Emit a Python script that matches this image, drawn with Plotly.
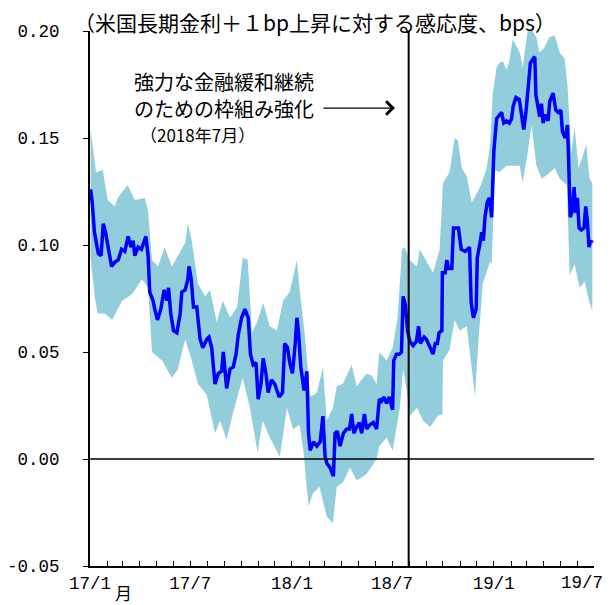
import plotly.graph_objects as go

# ---- data ----
line_dates = [
    "2017-01-02","2017-01-05","2017-01-09","2017-01-16","2017-01-21","2017-01-25","2017-01-29",
    "2017-02-03","2017-02-09","2017-02-15","2017-02-21","2017-02-27","2017-03-05","2017-03-11",
    "2017-03-16","2017-03-20","2017-03-23","2017-03-29","2017-04-04","2017-04-12","2017-04-16",
    "2017-04-19","2017-04-25","2017-04-28","2017-05-03","2017-05-09","2017-05-15","2017-05-20",
    "2017-05-23","2017-05-27","2017-06-01","2017-06-07","2017-06-13","2017-06-16","2017-06-22",
    "2017-06-27","2017-06-29","2017-07-03","2017-07-07","2017-07-13","2017-07-19","2017-07-24",
    "2017-07-31","2017-08-04","2017-08-09","2017-08-15","2017-08-21","2017-08-27","2017-08-30",
    "2017-09-05","2017-09-11","2017-09-17","2017-09-22","2017-09-26","2017-10-02","2017-10-08",
    "2017-10-14","2017-10-18","2017-10-23","2017-10-28","2017-11-01","2017-11-06","2017-11-10",
    "2017-11-15","2017-11-19","2017-11-25","2017-12-01","2017-12-09","2017-12-15","2017-12-19",
    "2017-12-24","2017-12-28","2018-01-02","2018-01-07","2018-01-10","2018-01-13","2018-01-17",
    "2018-01-23","2018-01-28","2018-01-31","2018-02-03","2018-02-09","2018-02-15","2018-02-21",
    "2018-02-26","2018-03-02","2018-03-05","2018-03-11","2018-03-17","2018-03-20","2018-03-24",
    "2018-03-29","2018-04-04","2018-04-10","2018-04-15","2018-04-19","2018-04-23","2018-04-28",
    "2018-05-03","2018-05-07","2018-05-12","2018-05-16","2018-05-22","2018-05-28","2018-06-03",
    "2018-06-08","2018-06-12","2018-06-16","2018-06-21","2018-06-26","2018-07-02","2018-07-04",
    "2018-07-09","2018-07-14","2018-07-18","2018-07-21","2018-07-25","2018-07-29","2018-08-02",
    "2018-08-08","2018-08-14","2018-08-18","2018-08-21","2018-08-28","2018-09-01","2018-09-08",
    "2018-09-13","2018-09-17","2018-09-21","2018-09-24","2018-09-29","2018-09-30","2018-10-05",
    "2018-10-08","2018-10-11","2018-10-17","2018-10-20","2018-10-29","2018-11-03","2018-11-10",
    "2018-11-18","2018-11-21","2018-11-25","2018-11-30","2018-12-02","2018-12-07","2018-12-10",
    "2018-12-13","2018-12-16","2018-12-20","2018-12-24","2018-12-28","2019-01-01","2019-01-06",
    "2019-01-09","2019-01-15","2019-01-19","2019-01-24","2019-01-29","2019-02-02","2019-02-05",
    "2019-02-10","2019-02-16","2019-02-20","2019-02-24","2019-02-28","2019-03-04","2019-03-08",
    "2019-03-13","2019-03-16","2019-03-18","2019-03-22","2019-03-25","2019-03-28","2019-03-31",
    "2019-04-05","2019-04-09","2019-04-12","2019-04-18","2019-04-23","2019-04-27","2019-05-02",
    "2019-05-05","2019-05-10","2019-05-14","2019-05-16","2019-05-19","2019-05-23","2019-05-26",
    "2019-05-29","2019-06-01","2019-06-04","2019-06-08","2019-06-13","2019-06-16","2019-06-19",
    "2019-06-22","2019-06-25","2019-06-28",
]
line_values = [
    0.126,0.120,0.106,0.096,0.095,0.110,0.106,
    0.098,0.090,0.092,0.093,0.098,0.097,0.104,
    0.099,0.102,0.095,0.099,0.098,0.104,0.095,
    0.078,0.074,0.070,0.065,0.070,0.079,0.074,
    0.080,0.068,0.060,0.059,0.068,0.078,0.079,
    0.084,0.090,0.084,0.071,0.071,0.056,0.052,
    0.056,0.057,0.052,0.035,0.040,0.041,0.050,
    0.033,0.042,0.043,0.049,0.058,0.066,0.070,
    0.066,0.049,0.044,0.045,0.028,0.035,0.047,
    0.040,0.031,0.037,0.035,0.029,0.031,0.054,
    0.052,0.045,0.040,0.054,0.066,0.059,0.043,
    0.032,0.041,0.012,0.004,0.008,0.006,0.008,
    0.020,0.001,-0.002,-0.004,-0.008,0.012,0.013,
    0.006,0.012,0.014,0.014,0.021,0.012,0.015,
    0.017,0.012,0.021,0.014,0.016,0.017,0.014,
    0.028,0.027,0.029,0.026,0.029,0.023,0.046,
    0.049,0.049,0.050,0.076,0.072,0.060,0.055,
    0.053,0.055,0.062,0.054,0.057,0.056,0.052,
    0.049,0.054,0.054,0.059,0.060,0.087,0.087,
    0.093,0.089,0.089,0.108,0.108,0.098,0.097,
    0.099,0.073,0.066,0.070,0.094,0.101,0.106,
    0.102,0.113,0.120,0.122,0.113,0.144,0.159,
    0.160,0.162,0.157,0.158,0.157,0.159,0.165,
    0.169,0.168,0.161,0.154,0.162,0.173,0.185,
    0.187,0.188,0.170,0.165,0.160,0.166,0.157,
    0.161,0.158,0.167,0.171,0.163,0.162,0.163,
    0.153,0.150,0.156,0.141,0.113,0.116,0.127,
    0.115,0.122,0.108,0.107,0.108,0.118,0.111,
    0.099,0.102,0.101,
]

upper_dates = [
    "2017-01-02","2017-01-12","2017-01-24","2017-02-02","2017-02-15","2017-02-20","2017-03-10",
    "2017-03-23","2017-04-10","2017-04-16","2017-04-23","2017-05-04","2017-05-16","2017-05-29",
    "2017-06-09","2017-06-22","2017-06-27","2017-07-04","2017-07-15","2017-07-28","2017-08-06",
    "2017-08-18","2017-08-29","2017-09-11","2017-09-24","2017-10-04","2017-10-13","2017-10-21",
    "2017-10-30","2017-11-10","2017-11-22","2017-12-05","2017-12-16","2017-12-28","2018-01-10",
    "2018-01-15","2018-01-24","2018-02-03","2018-02-15","2018-02-26","2018-03-05","2018-03-16",
    "2018-03-23","2018-04-03","2018-04-19","2018-04-28","2018-05-07","2018-05-16","2018-05-25",
    "2018-06-03","2018-06-08","2018-06-21","2018-07-02","2018-07-11","2018-07-19","2018-07-24",
    "2018-08-02","2018-08-15","2018-08-20","2018-09-02","2018-09-13","2018-09-25","2018-10-01",
    "2018-10-13","2018-10-22","2018-10-28","2018-11-04","2018-11-13","2018-11-22","2018-12-01",
    "2018-12-10","2018-12-19","2018-12-25","2018-12-30","2019-01-06","2019-01-11","2019-01-17",
    "2019-01-24","2019-01-29","2019-02-04","2019-02-17","2019-02-22","2019-03-03","2019-03-12",
    "2019-03-19","2019-03-24","2019-04-02","2019-04-11","2019-04-21","2019-04-30","2019-05-09",
    "2019-05-14","2019-05-21","2019-05-27","2019-06-03","2019-06-10","2019-06-17","2019-06-23",
    "2019-06-28",
]
upper_values = [
    0.154,0.134,0.135,0.121,0.118,0.122,0.128,
    0.121,0.122,0.116,0.093,0.090,0.099,0.090,
    0.095,0.101,0.110,0.102,0.082,0.076,0.079,
    0.064,0.074,0.066,0.071,0.094,0.093,0.059,
    0.064,0.073,0.062,0.060,0.074,0.078,0.093,
    0.079,0.059,0.029,0.031,0.043,0.018,0.024,
    0.034,0.035,0.044,0.034,0.037,0.040,0.039,
    0.035,0.050,0.046,0.052,0.066,0.098,0.099,
    0.093,0.090,0.098,0.092,0.087,0.098,0.129,
    0.134,0.150,0.149,0.136,0.132,0.120,0.124,
    0.129,0.136,0.146,0.171,0.183,0.185,0.186,
    0.182,0.186,0.196,0.190,0.183,0.200,0.200,
    0.197,0.190,0.192,0.197,0.198,0.190,0.187,
    0.175,0.143,0.155,0.136,0.141,0.147,0.131,
    0.129,
]

lower_dates = [
    "2017-01-02","2017-01-10","2017-01-15","2017-01-28","2017-02-10","2017-02-28","2017-03-18",
    "2017-04-05","2017-04-16","2017-04-23","2017-05-11","2017-05-29","2017-06-09","2017-06-22",
    "2017-07-04","2017-07-15","2017-07-31","2017-08-15","2017-08-24","2017-09-05","2017-09-16",
    "2017-10-04","2017-10-17","2017-10-31","2017-11-09","2017-11-22","2017-12-10","2017-12-23",
    "2018-01-03","2018-01-15","2018-01-22","2018-01-31","2018-02-08","2018-02-20","2018-03-05",
    "2018-03-16","2018-03-23","2018-04-03","2018-04-16","2018-04-28","2018-05-16","2018-06-03",
    "2018-06-08","2018-06-21","2018-07-02","2018-07-15","2018-07-21","2018-07-28","2018-08-02",
    "2018-08-15","2018-08-26","2018-09-08","2018-09-21","2018-09-30","2018-10-01","2018-10-13",
    "2018-10-22","2018-10-31","2018-11-13","2018-11-22","2018-11-28","2018-12-03","2018-12-12",
    "2018-12-25","2018-12-28","2019-01-03","2019-01-11","2019-01-24","2019-02-17","2019-02-22",
    "2019-03-03","2019-03-10","2019-03-19","2019-03-28","2019-04-08","2019-04-21","2019-04-30",
    "2019-05-13","2019-05-18","2019-05-27","2019-06-05","2019-06-14","2019-06-23","2019-06-28",
]
lower_values = [
    0.094,0.075,0.068,0.068,0.065,0.074,0.077,
    0.084,0.080,0.050,0.046,0.038,0.042,0.056,
    0.046,0.035,0.030,0.012,0.018,0.009,0.021,
    0.038,0.024,0.003,0.018,0.010,0.001,0.024,
    0.014,0.016,0.003,-0.022,-0.016,-0.013,-0.027,
    -0.030,-0.013,-0.011,-0.004,-0.010,-0.007,0.000,
    0.006,0.010,0.004,0.024,0.042,0.031,0.020,
    0.024,0.018,0.015,0.020,0.021,0.046,0.051,
    0.065,0.060,0.062,0.042,0.029,0.051,0.082,
    0.092,0.091,0.135,0.134,0.137,0.137,0.129,
    0.143,0.156,0.137,0.131,0.133,0.136,0.131,
    0.128,0.086,0.091,0.080,0.083,0.073,0.069,
]

y_ticks = [-0.05, 0.00, 0.05, 0.10, 0.15, 0.20]
y_ticktext = ["-0.05", "0.00", "0.05", "0.10", "0.15", "0.20"]
x_ticks = ["2017-01-01", "2017-07-01", "2018-01-01", "2018-07-01", "2019-01-01", "2019-07-01"]
x_ticktext = ["17/1", "17/7", "18/1", "18/7", "19/1", ""]
last_x_label = "19/7"   # drawn as a right-aligned label so it stays inside the window
policy_date = "2018-07-31"

title_text = "（米国長期金利＋１bp上昇に対する感応度、bps）"
note_lines = ["強力な金融緩和継続", "のための枠組み強化", "（2018年7月）"]

# ---- figure ----
JP = "Noto Sans CJK JP"
MONO = "Liberation Mono"
BAND = "rgb(146,205,220)"

fig = go.Figure()
fig.add_trace(go.Scatter(
    x=upper_dates + lower_dates[::-1],
    y=upper_values + lower_values[::-1],
    fill="toself", fillcolor=BAND, line=dict(width=0, color=BAND),
    mode="lines", hoverinfo="skip", showlegend=False,
))
fig.add_trace(go.Scatter(
    x=line_dates, y=line_values, mode="lines",
    line=dict(color="#0000FF", width=3.5), showlegend=False,
))

fig.add_shape(type="line", xref="paper", x0=0, x1=1, yref="y", y0=0, y1=0,
              line=dict(color="black", width=1.3), layer="above")
fig.add_shape(type="line", xref="x", x0=policy_date, x1=policy_date, yref="paper", y0=0, y1=1,
              line=dict(color="black", width=2), layer="above")

# the page body adds an 8px offset, so the figure is sized to fit the window
fig.update_layout(
    width=607, height=597,
    margin=dict(l=82, r=21, t=23, b=39, autoexpand=False),
    paper_bgcolor="white", plot_bgcolor="white",
    font=dict(family=MONO, size=18, color="black"),
    xaxis=dict(
        range=["2017-01-01", "2019-07-01"],
        tickvals=x_ticks, ticktext=x_ticktext,
        ticks="inside", ticklen=5, tickwidth=1.3, tickcolor="black",
        minor=dict(dtick="M1", tick0="2017-01-01", ticks="inside", ticklen=5, tickwidth=1.3, tickcolor="black"),
        showline=True, linecolor="black", linewidth=2,
        showgrid=False, zeroline=False, automargin=False,
        ticklabeloverflow="allow",
        tickfont=dict(family=MONO, size=17.5),
    ),
    yaxis=dict(
        range=[-0.05, 0.20],
        tickvals=y_ticks, ticktext=y_ticktext,
        ticks="outside", ticklen=5, tickwidth=1.3, tickcolor="black",
        ticklabelstandoff=20,
        showline=True, linecolor="black", linewidth=2,
        showgrid=False, zeroline=False, automargin=False,
        tickfont=dict(family=MONO, size=17.5),
    ),
)

annotations = [
    dict(text=title_text, xref="paper", yref="paper", x=-0.036, y=1.017,
         xanchor="left", yanchor="middle", showarrow=False,
         font=dict(family=JP, size=21)),
    dict(text=note_lines[0], xref="paper", yref="paper", x=0.083, y=0.906,
         xanchor="left", yanchor="middle", showarrow=False, font=dict(family=JP, size=20)),
    dict(text=note_lines[1], xref="paper", yref="paper", x=0.083, y=0.856,
         xanchor="left", yanchor="middle", showarrow=False, font=dict(family=JP, size=20)),
    dict(text=note_lines[2], xref="paper", yref="paper", x=0.095, y=0.806,
         xanchor="left", yanchor="middle", showarrow=False, font=dict(family=JP, size=17)),
    dict(text="", xref="paper", yref="paper", x=0.605, y=0.856,
         ax=-73, ay=0, showarrow=True, arrowhead=4, arrowsize=2, arrowwidth=1.3,
         arrowcolor="black"),
    dict(text="月", xref="paper", yref="paper", x=(123 - 90) / 504, y=-0.05,
         xanchor="center", yanchor="middle", showarrow=False, font=dict(family=JP, size=17)),
    dict(text=last_x_label, xref="paper", yref="paper", x=1.022, y=-0.032,
         xanchor="right", yanchor="middle", showarrow=False, font=dict(family=MONO, size=17.5)),
]
fig.update_layout(annotations=annotations)

fig.write_html("out.html")
